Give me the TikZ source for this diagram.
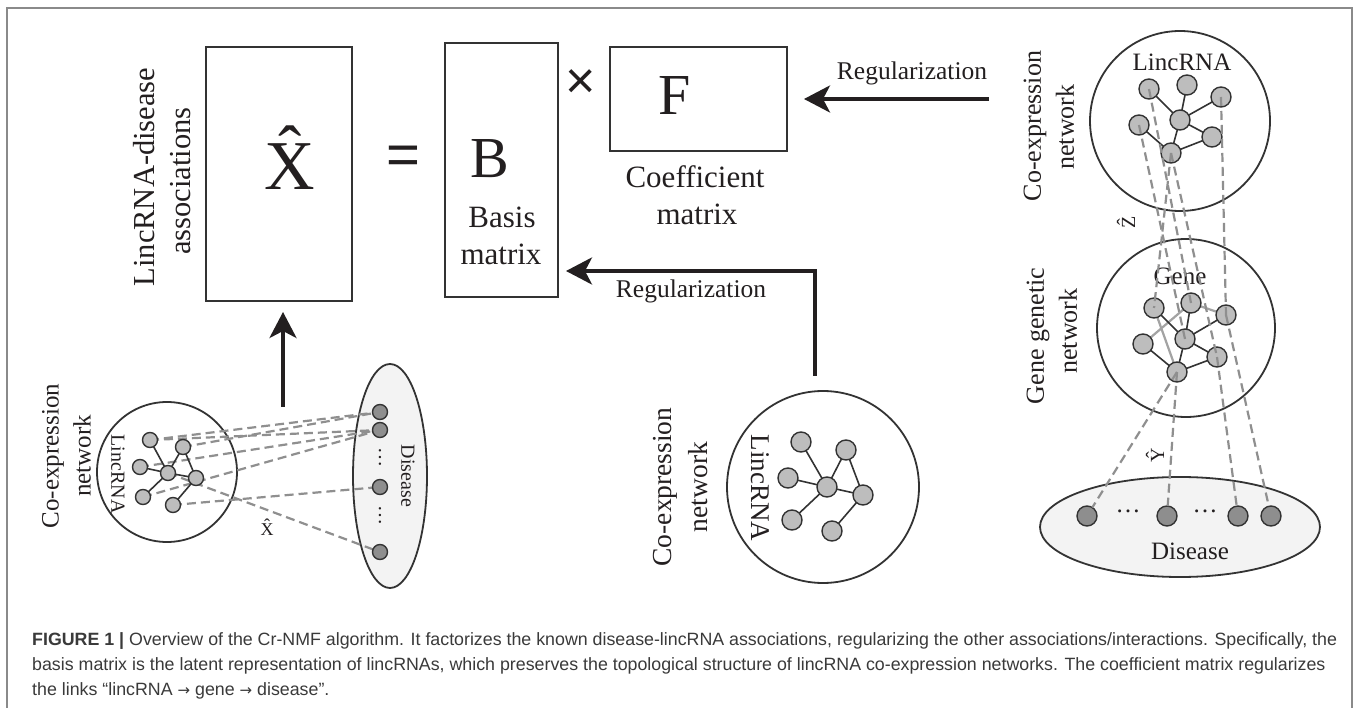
\documentclass[tikz,border=0pt]{standalone}
\usepackage{fontspec}
\setmainfont{Liberation Serif}
\newfontfamily\capfont{Liberation Sans}
\newfontfamily\arrfont{DejaVu Sans}
\usetikzlibrary{arrows.meta,shapes.geometric}
\definecolor{ink}{HTML}{231F20}
\definecolor{linec}{HTML}{333333}
\definecolor{nodef}{HTML}{BDBDBD}
\definecolor{disf}{HTML}{8E8E8E}
\definecolor{ellf}{HTML}{F3F3F3}
\definecolor{dashc}{HTML}{8F8F8F}
\definecolor{graye}{HTML}{A3A3A3}
\definecolor{framec}{HTML}{8A8A8A}
\definecolor{capc}{HTML}{3A3A3A}
\newcommand\fsz[1]{\fontsize{#1}{#1}\selectfont}
\newcommand\hatted[1]{\leavevmode\setbox0\hbox{#1}\hbox to\wd0{\hss\raisebox{0.22em}{\char"02C6}\hss}\kern-\wd0\box0}
\newcommand\rarr{{\arrfont\fontsize{15}{15}\selectfont →}}
\begin{document}
\begin{tikzpicture}[x=1pt,y=-1pt,
  every node/.style={text=ink, inner sep=0pt, outer sep=0pt},
  matbox/.style={draw=linec, line width=1.8pt, rectangle, anchor=north west},
  ring/.style={circle, draw=linec, line width=1.8pt},
  oval/.style={ellipse, draw=linec, line width=1.8pt, fill=ellf},
  netnode/.style={circle, draw=linec, line width=1.4pt, fill=nodef, minimum size=#1},
  netnode/.default=20pt,
  disnode/.style={circle, draw=linec, line width=1.4pt, fill=disf, minimum size=#1},
  disnode/.default=20pt,
  netedge/.style={draw=linec, line width=1.6pt},
  grayedge/.style={draw=graye, line width=2.2pt},
  lnk/.style={draw=dashc, line width=2.2pt, dash pattern=on 9pt off 5pt},
  bigarrow/.style={draw=ink, line width=3.5pt, -{Stealth[length=26pt,width=27pt,inset=7pt]}},
  lbl/.style={font=\fsz{#1}},
]
\useasboundingbox (0,0) rectangle (1358,708);
\fill[white] (0,0) rectangle (1358,708);
\draw[framec, line width=1.5pt] (7,740) -- (7,8) -- (1352,8) -- (1352,740);

% ---------- top: factorisation ----------
\node[rotate=90, lbl=30.5] (t1) at (144,177) {LincRNA-disease};
\node[rotate=90, lbl=30.5] (t2) at (181,181) {associations};
\node[matbox, minimum width=146pt, minimum height=254pt] (Xbox) at (206,47) {};
\node[lbl=70, anchor=base] (Xh) at (290,190) {\hatted{X}};
\node[font=\capfont\fsz{58}] (eq) at (403,160) {=};
\node[matbox, minimum width=113pt, minimum height=254pt] (Bbox) at (445,43) {};
\node[lbl=58, anchor=base] (Bl) at (490,178) {B};
\node[lbl=31, anchor=base] (basis) at (502,228) {Basis};
\node[lbl=31, anchor=base] (bmat) at (501,265) {matrix};
\node[font=\capfont\fsz{52}] (times) at (581,84) {×};
\node[matbox, minimum width=177pt, minimum height=104pt] (Fbox) at (610,47) {};
\node[lbl=58, anchor=base] (Fl) at (675,115) {F};
\node[lbl=31, anchor=base] (coef) at (695,188) {Coefficient};
\node[lbl=31, anchor=base] (cmat) at (697,225) {matrix};
\node[lbl=25.5, anchor=base] (reg1) at (912,80) {Regularization};
\node[lbl=25.5, anchor=base] (reg2) at (691,298) {Regularization};

\coordinate (regr) at (989,99);
\coordinate (regb) at (815,376);
\coordinate (regt) at (815,271);
\coordinate (upx) at (283,407);
\draw[bigarrow, shorten >=17pt] (regr) -- (regr -| Fbox.east);
\draw[bigarrow, shorten >=8pt] (regb) -- (regt) -- (regt -| Bbox.east);
\draw[bigarrow, shorten >=11pt] (upx) -- (upx |- Xbox.south);

% ---------- left: lincRNA -- disease ----------
\node[rotate=90, lbl=25] (lc1) at (53,456) {Co-expression};
\node[rotate=90, lbl=25] (lc2) at (82,456) {network};
\node[ring, minimum size=140pt] (lcirc) at (167,472) {};
\node[oval, minimum width=74pt, minimum height=224pt] (lell) at (390,476) {};
\node[rotate=-90, lbl=20] (llinc) at (118,474) {LincRNA};
\node[rotate=-90, lbl=20] (ldis) at (408,476) {Disease};
\node[rotate=-90, lbl=20] (ldots1) at (380,458) {\dots};
\node[rotate=-90, lbl=20] (ldots2) at (380,515) {\dots};
\node[lbl=18] (xlab) at (267,527) {\hatted{X}};

\coordinate (a1) at (150,440); \coordinate (a2) at (183,447);
\coordinate (a3) at (140,467); \coordinate (a4) at (168,473);
\coordinate (a5) at (196,478); \coordinate (a6) at (143,497);
\coordinate (a7) at (173,505);
\coordinate (d1) at (380,412); \coordinate (d2) at (380,430);
\coordinate (d3) at (380,487); \coordinate (d4) at (380,552);
\draw[lnk] (a1) -- (d1); \draw[lnk] (a2) -- (d1);
\draw[lnk] (a1) -- (d2); \draw[lnk] (a3) -- (d2);
\draw[lnk] (a6) -- (d2); \draw[lnk] (a7) -- (d3);
\draw[lnk] (a4) -- (d4);
\draw[netedge] (a1) -- (a4) (a2) -- (a4) (a3) -- (a4) (a4) -- (a5)
  (a4) -- (a6) (a2) -- (a5) (a5) -- (a7);
\foreach \p in {a1,a2,a3,a4,a5,a6,a7} \node[netnode=15pt] (N\p) at (\p) {};
\foreach \p in {d1,d2,d3,d4} \node[disnode=15pt] (N\p) at (\p) {};

% ---------- bottom middle ----------
\node[rotate=90, lbl=27.5] (mc1) at (665,487) {Co-expression};
\node[rotate=90, lbl=27.5] (mc2) at (698,487) {network};
\node[ring, minimum size=192pt] (mcirc) at (823,487) {};
\node[rotate=-90, lbl=27] (mlinc) at (760,488) {LincRNA};
\coordinate (b1) at (801,442); \coordinate (b2) at (846,450);
\coordinate (b3) at (788,478); \coordinate (b4) at (827,487);
\coordinate (b5) at (863,495); \coordinate (b6) at (792,520);
\coordinate (b7) at (832,531);
\draw[netedge] (b1) -- (b4) (b2) -- (b4) (b3) -- (b4) (b4) -- (b5)
  (b4) -- (b6) (b2) -- (b5) (b5) -- (b7);
\foreach \p in {b1,b2,b3,b4,b5,b6,b7} \node[netnode] (N\p) at (\p) {};

% ---------- right: lincRNA -> gene -> disease ----------
\node[rotate=90, lbl=26] (rc1) at (1035,126) {Co-expression};
\node[rotate=90, lbl=26] (rc2) at (1065,127) {network};
\node[rotate=90, lbl=26] (rg1) at (1038,336) {Gene genetic};
\node[rotate=90, lbl=26] (rg2) at (1068,331) {network};
\node[ring, minimum size=180pt] (tcirc) at (1180,121) {};
\node[ring, minimum size=178pt] (gcirc) at (1186,328) {};
\node[oval, minimum width=280pt, minimum height=100pt] (rell) at (1180,527) {};
\node[lbl=25] (tlinc) at (1182,62) {LincRNA};
\node[lbl=25] (gene) at (1180,276) {Gene};
\node[lbl=25, anchor=base] (rdis) at (1190,559) {Disease};
\node[lbl=25] (rdots1) at (1128,511) {\dots};
\node[lbl=25] (rdots2) at (1205,511) {\dots};
\node[rotate=90, lbl=20] (zlab) at (1126,222) {\hatted{Z}};
\node[rotate=90, lbl=20] (ylab) at (1155,455) {\hatted{Y}};

\coordinate (n1) at (1149,89);  \coordinate (n2) at (1187,85);
\coordinate (n3) at (1221,97);  \coordinate (n4) at (1139,125);
\coordinate (n5) at (1180,120); \coordinate (n6) at (1212,137);
\coordinate (n7) at (1171,153);
\coordinate (g1) at (1154,308); \coordinate (g2) at (1191,303);
\coordinate (g3) at (1226,315); \coordinate (g4) at (1143,344);
\coordinate (g5) at (1185,339); \coordinate (g6) at (1217,357);
\coordinate (g7) at (1177,372);
\coordinate (e1) at (1087,516); \coordinate (e2) at (1167,516);
\coordinate (e3) at (1238,516); \coordinate (e4) at (1271,516);

\draw[netedge] (n1) -- (n5) (n2) -- (n5) (n3) -- (n5) (n5) -- (n6)
  (n5) -- (n7) (n4) -- (n7) (n6) -- (n7);
\draw[grayedge] (g4) -- (g2) (g2) -- (g3) (g1) -- (g7);
\draw[netedge] (g1) -- (g5) (g2) -- (g5) (g3) -- (g5) (g5) -- (g6)
  (g5) -- (g7) (g4) -- (g7) (g7) -- (g6);
\foreach \p in {n1,n2,n3,n4,n5,n6,n7,g1,g2,g3,g4,g5,g6,g7} \node[netnode] (N\p) at (\p) {};
\foreach \p in {e1,e2,e3,e4} \node[disnode] (N\p) at (\p) {};

\draw[lnk] (Nn7.center) -- (Ng1.center);
\draw[lnk] (Nn4.center) -- (Ng5.center);
\draw[lnk] (Nn1.center) -- (Ng2.center);
\draw[lnk] (Nn7.center) -- (Ng6.center);
\draw[lnk] (Nn3.center) -- (Ng3.center);
\draw[lnk] (Ng7.center) -- (Ne1);
\draw[lnk] (Ng7.center) -- (Ne2);
\draw[lnk] (Ng6.center) -- (Ne3);
\draw[lnk] (Ng3.center) -- (Ne4);

% ---------- caption ----------
\begin{scope}[every node/.style={text=capc, inner sep=0pt, anchor=base west, font=\capfont\fsz{17.8}}]
\node (cap1) at (32,645) {{\bfseries FIGURE 1 |} Overview of the Cr-NMF algorithm. It factorizes the known disease-lincRNA associations, regularizing the other associations/interactions. Specifically, the};
\node (cap2) at (32,670) {basis matrix is the latent representation of lincRNAs, which preserves the topological structure of lincRNA co-expression networks. The coefficient matrix regularizes};
\node (cap3) at (32,695) {the links “lincRNA \rarr{} gene \rarr{} disease”.};
\end{scope}
\end{tikzpicture}
\end{document}
